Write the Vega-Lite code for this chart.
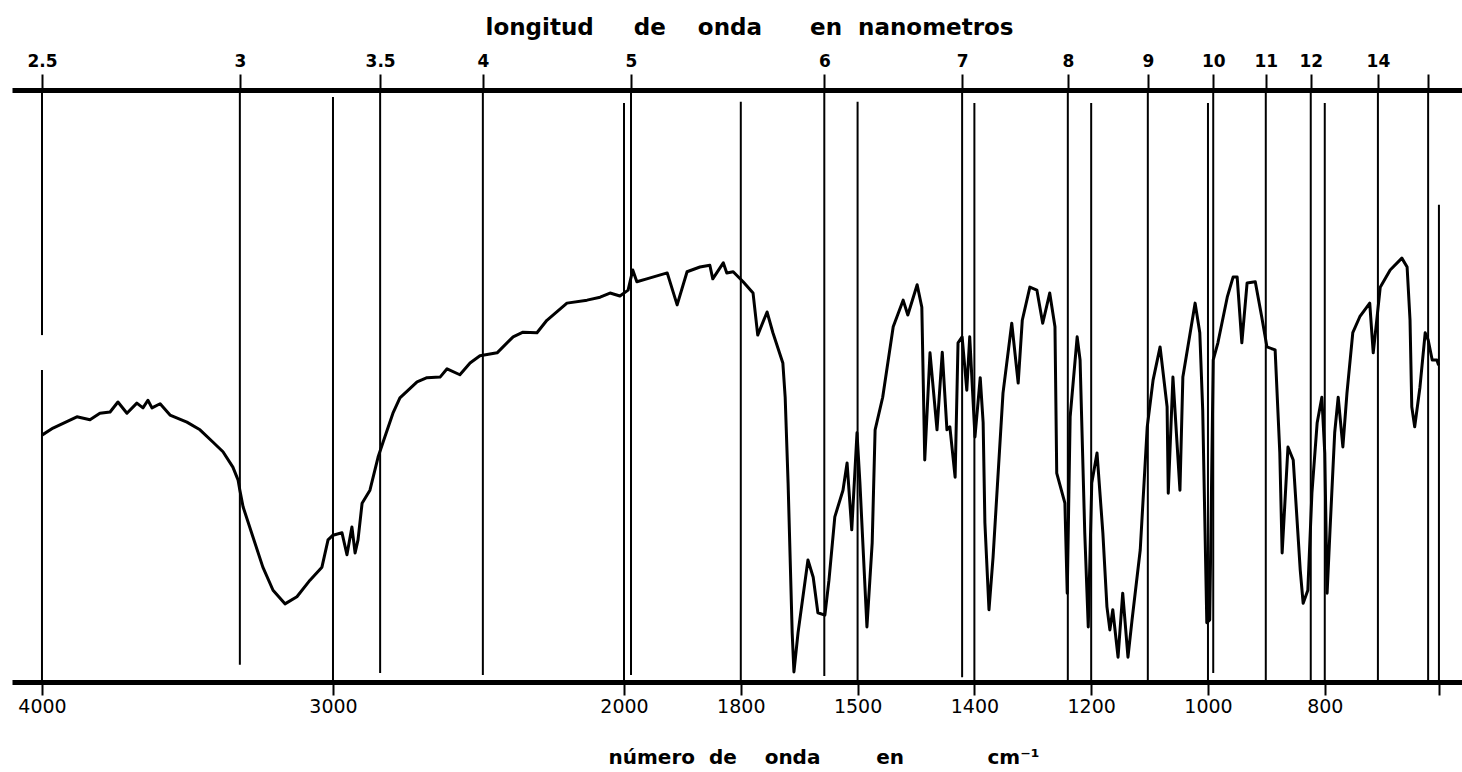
{
  "$schema": "https://vega.github.io/schema/vega-lite/v6.json",
  "width": 1450,
  "height": 592,
  "autosize": {"type": "none"},
  "padding": {"left": 12, "top": 90, "right": 0, "bottom": 90},
  "background": "white",
  "config": {
    "view": {"stroke": null},
    "axis": {"grid": false, "domainColor": "black", "domainWidth": 5, "tickColor": "black", "tickWidth": 2, "labelColor": "black", "titleColor": "black", "labelFlush": false, "labelOverlap": false, "labelBound": false}
  },
  "datasets": {
    "spectrum": [
      {"wn": 4000, "t": 41.7}, {"wn": 3962, "t": 42.9}, {"wn": 3880, "t": 44.8}, {"wn": 3835, "t": 44.3}, {"wn": 3801, "t": 45.4},
      {"wn": 3766, "t": 45.6}, {"wn": 3739, "t": 47.3}, {"wn": 3708, "t": 45.4}, {"wn": 3674, "t": 47.1}, {"wn": 3653, "t": 46.3},
      {"wn": 3636, "t": 47.6}, {"wn": 3622, "t": 46.3}, {"wn": 3594, "t": 47.0}, {"wn": 3560, "t": 45.1}, {"wn": 3502, "t": 43.9},
      {"wn": 3457, "t": 42.6}, {"wn": 3412, "t": 40.5}, {"wn": 3378, "t": 38.9}, {"wn": 3344, "t": 36.3}, {"wn": 3326, "t": 34.1},
      {"wn": 3320, "t": 32.4}, {"wn": 3309, "t": 29.6}, {"wn": 3275, "t": 24.5}, {"wn": 3241, "t": 19.4}, {"wn": 3206, "t": 15.5},
      {"wn": 3165, "t": 13.2}, {"wn": 3124, "t": 14.4}, {"wn": 3079, "t": 17.2}, {"wn": 3038, "t": 19.4}, {"wn": 3017, "t": 24.0},
      {"wn": 3000, "t": 24.8}, {"wn": 2969, "t": 25.2}, {"wn": 2952, "t": 21.5}, {"wn": 2935, "t": 26.2}, {"wn": 2924, "t": 21.8},
      {"wn": 2914, "t": 24.0}, {"wn": 2900, "t": 30.2}, {"wn": 2873, "t": 32.4}, {"wn": 2845, "t": 38.0}, {"wn": 2828, "t": 40.5},
      {"wn": 2794, "t": 45.4}, {"wn": 2770, "t": 48.0}, {"wn": 2711, "t": 50.7}, {"wn": 2677, "t": 51.4}, {"wn": 2632, "t": 51.5},
      {"wn": 2608, "t": 52.9}, {"wn": 2564, "t": 51.9}, {"wn": 2529, "t": 53.9}, {"wn": 2495, "t": 55.1}, {"wn": 2436, "t": 55.6},
      {"wn": 2381, "t": 58.3}, {"wn": 2347, "t": 59.1}, {"wn": 2299, "t": 59.0}, {"wn": 2265, "t": 61.1}, {"wn": 2196, "t": 64.0},
      {"wn": 2127, "t": 64.5}, {"wn": 2082, "t": 65.0}, {"wn": 2048, "t": 65.7}, {"wn": 2014, "t": 65.2}, {"wn": 1993, "t": 66.2},
      {"wn": 1985, "t": 69.6}, {"wn": 1978, "t": 67.6}, {"wn": 1961, "t": 68.1}, {"wn": 1926, "t": 69.1}, {"wn": 1909, "t": 63.7},
      {"wn": 1892, "t": 69.3}, {"wn": 1870, "t": 70.1}, {"wn": 1853, "t": 70.4}, {"wn": 1848, "t": 68.1}, {"wn": 1830, "t": 70.8},
      {"wn": 1824, "t": 69.1}, {"wn": 1813, "t": 69.3}, {"wn": 1796, "t": 67.6}, {"wn": 1779, "t": 65.7}, {"wn": 1771, "t": 58.6},
      {"wn": 1755, "t": 62.5}, {"wn": 1745, "t": 59.0}, {"wn": 1728, "t": 53.9}, {"wn": 1724, "t": 48.1}, {"wn": 1719, "t": 33.6},
      {"wn": 1712, "t": 8.3}, {"wn": 1709, "t": 1.7}, {"wn": 1702, "t": 8.3}, {"wn": 1685, "t": 20.6}, {"wn": 1676, "t": 17.7},
      {"wn": 1668, "t": 11.7}, {"wn": 1656, "t": 11.3}, {"wn": 1649, "t": 17.2}, {"wn": 1639, "t": 27.9}, {"wn": 1625, "t": 32.4},
      {"wn": 1618, "t": 37.0}, {"wn": 1610, "t": 25.7}, {"wn": 1601, "t": 42.1}, {"wn": 1596, "t": 33.6}, {"wn": 1584, "t": 9.3},
      {"wn": 1575, "t": 23.5}, {"wn": 1570, "t": 42.6}, {"wn": 1557, "t": 48.1}, {"wn": 1539, "t": 60.0}, {"wn": 1522, "t": 64.5},
      {"wn": 1514, "t": 62.0}, {"wn": 1498, "t": 67.1}, {"wn": 1490, "t": 63.3}, {"wn": 1485, "t": 37.5}, {"wn": 1476, "t": 55.6},
      {"wn": 1464, "t": 42.6}, {"wn": 1455, "t": 55.7}, {"wn": 1447, "t": 42.6}, {"wn": 1442, "t": 43.1}, {"wn": 1433, "t": 34.6},
      {"wn": 1428, "t": 57.3}, {"wn": 1421, "t": 58.3}, {"wn": 1413, "t": 49.3}, {"wn": 1408, "t": 58.3}, {"wn": 1399, "t": 41.4},
      {"wn": 1390, "t": 51.4}, {"wn": 1385, "t": 43.8}, {"wn": 1382, "t": 26.9}, {"wn": 1375, "t": 12.2}, {"wn": 1368, "t": 21.1},
      {"wn": 1351, "t": 48.8}, {"wn": 1336, "t": 60.6}, {"wn": 1325, "t": 50.5}, {"wn": 1318, "t": 61.1}, {"wn": 1305, "t": 66.7},
      {"wn": 1293, "t": 66.2}, {"wn": 1283, "t": 60.6}, {"wn": 1271, "t": 65.7}, {"wn": 1262, "t": 60.0}, {"wn": 1259, "t": 35.3},
      {"wn": 1245, "t": 30.2}, {"wn": 1241, "t": 15.0}, {"wn": 1236, "t": 44.8}, {"wn": 1224, "t": 58.3}, {"wn": 1219, "t": 54.4},
      {"wn": 1211, "t": 25.2}, {"wn": 1205, "t": 9.3}, {"wn": 1199, "t": 33.6}, {"wn": 1190, "t": 38.7}, {"wn": 1180, "t": 25.2},
      {"wn": 1173, "t": 12.7}, {"wn": 1168, "t": 8.8}, {"wn": 1163, "t": 12.2}, {"wn": 1154, "t": 4.2}, {"wn": 1146, "t": 15.0},
      {"wn": 1137, "t": 4.2}, {"wn": 1130, "t": 10.5}, {"wn": 1116, "t": 22.3}, {"wn": 1104, "t": 43.1}, {"wn": 1094, "t": 51.0},
      {"wn": 1082, "t": 56.6}, {"wn": 1070, "t": 46.5}, {"wn": 1068, "t": 31.9}, {"wn": 1060, "t": 51.5}, {"wn": 1048, "t": 32.4},
      {"wn": 1043, "t": 51.5}, {"wn": 1022, "t": 64.0}, {"wn": 1014, "t": 59.0}, {"wn": 1009, "t": 45.9}, {"wn": 1002, "t": 10.0},
      {"wn": 997, "t": 10.5}, {"wn": 991, "t": 54.4}, {"wn": 983, "t": 57.3}, {"wn": 967, "t": 65.0}, {"wn": 957, "t": 68.4},
      {"wn": 950, "t": 68.4}, {"wn": 942, "t": 57.3}, {"wn": 933, "t": 67.4}, {"wn": 919, "t": 67.6}, {"wn": 908, "t": 61.7},
      {"wn": 899, "t": 56.6}, {"wn": 885, "t": 56.1}, {"wn": 877, "t": 38.7}, {"wn": 873, "t": 21.8}, {"wn": 863, "t": 39.7},
      {"wn": 854, "t": 37.5}, {"wn": 842, "t": 18.9}, {"wn": 837, "t": 13.3}, {"wn": 829, "t": 15.5}, {"wn": 822, "t": 31.9},
      {"wn": 813, "t": 43.8}, {"wn": 805, "t": 48.1}, {"wn": 800, "t": 38.7}, {"wn": 796, "t": 15.0}, {"wn": 791, "t": 25.7},
      {"wn": 783, "t": 42.1}, {"wn": 777, "t": 48.1}, {"wn": 769, "t": 39.7}, {"wn": 762, "t": 48.8}, {"wn": 752, "t": 59.0},
      {"wn": 740, "t": 61.7}, {"wn": 723, "t": 64.0}, {"wn": 717, "t": 55.6}, {"wn": 711, "t": 61.1}, {"wn": 705, "t": 66.7},
      {"wn": 688, "t": 69.6}, {"wn": 668, "t": 71.6}, {"wn": 659, "t": 70.1}, {"wn": 654, "t": 61.1}, {"wn": 651, "t": 46.5},
      {"wn": 646, "t": 43.1}, {"wn": 637, "t": 49.8}, {"wn": 628, "t": 59.0}, {"wn": 623, "t": 57.8}, {"wn": 616, "t": 54.4},
      {"wn": 608, "t": 54.4}, {"wn": 605, "t": 53.5}
    ],
    "marks": [
      {"wn": 4000, "t1": 100, "t2": 58.6}, {"wn": 4000, "t1": 52.7, "t2": 0},
      {"wn": 3320, "t1": 100, "t2": 2.9}, {"wn": 3000, "t1": 98.8, "t2": 0},
      {"wn": 2838, "t1": 100, "t2": 1.5}, {"wn": 2485, "t1": 100, "t2": 1.2},
      {"wn": 2000, "t1": 97.8, "t2": 0}, {"wn": 1988, "t1": 100, "t2": 1.2},
      {"wn": 1800, "t1": 98, "t2": 0}, {"wn": 1657, "t1": 100, "t2": 1},
      {"wn": 1600, "t1": 98, "t2": 0}, {"wn": 1421, "t1": 100, "t2": 0.8},
      {"wn": 1400, "t1": 97.8, "t2": 0}, {"wn": 1240, "t1": 100, "t2": 0},
      {"wn": 1200, "t1": 97.8, "t2": 0}, {"wn": 1103, "t1": 100, "t2": 0.3},
      {"wn": 1000, "t1": 97.8, "t2": 0}, {"wn": 991, "t1": 100, "t2": 1.5},
      {"wn": 901, "t1": 100, "t2": 0}, {"wn": 824, "t1": 100, "t2": 0},
      {"wn": 800, "t1": 97.8, "t2": 0}, {"wn": 709, "t1": 100, "t2": 0},
      {"wn": 623, "t1": 100, "t2": 0}, {"wn": 604.5, "t1": 80.6, "t2": 0}
    ]
  },
  "layer": [
    {
      "data": {"name": "marks"},
      "mark": {"type": "rule", "color": "black", "strokeWidth": 2},
      "encoding": {
        "x": {
          "field": "wn", "type": "quantitative",
          "scale": {"type": "linear", "domain": [4103, 2000, 565], "range": [0, 612, 1450], "nice": false, "zero": false},
          "axis": {
            "orient": "top",
            "values": [4000, 3320, 2838, 2485, 1988, 1657, 1421, 1240, 1103, 991, 901, 824, 709, 623],
            "labelExpr": "datum.value < 650 ? '' : '' + round(20000 / datum.value) / 2",
            "labelFont": "DejaVu Sans", "labelFontWeight": "bold", "labelFontSize": 17,
            "tickSize": 16, "labelPadding": 4,
            "title": "longitud\u00a0\u00a0\u00a0\u00a0\u00a0de\u00a0\u00a0\u00a0\u00a0onda\u00a0\u00a0\u00a0\u00a0\u00a0\u00a0en\u00a0\u00a0nanometros",
            "titleFont": "DejaVu Sans", "titleFontWeight": "bold", "titleFontSize": 23,
            "titleAlign": "left", "titleBaseline": "alphabetic", "titleX": 473, "titleY": -56
          }
        },
        "y": {"field": "t1", "type": "quantitative", "scale": {"domain": [0, 100], "nice": false, "zero": false}, "axis": null},
        "y2": {"field": "t2"}
      }
    },
    {
      "data": {"name": "spectrum"},
      "mark": {"type": "line", "color": "black", "strokeWidth": 3, "strokeJoin": "round"},
      "encoding": {
        "x": {
          "field": "wn", "type": "quantitative",
          "scale": {"type": "linear", "domain": [4103, 2000, 565], "range": [0, 612, 1450], "nice": false, "zero": false},
          "axis": {
            "orient": "bottom",
            "values": [4000, 3000, 2000, 1800, 1600, 1400, 1200, 1000, 800, 604.5],
            "format": "d",
            "labelExpr": "datum.value == 1600 ? '1500' : (datum.value < 700 ? '' : datum.label)",
            "labelFont": "DejaVu Sans", "labelFontSize": 19,
            "tickSize": 13, "labelPadding": 2,
            "title": "número\u00a0\u00a0de\u00a0\u00a0\u00a0\u00a0onda\u00a0\u00a0\u00a0\u00a0\u00a0\u00a0\u00a0\u00a0en\u00a0\u00a0\u00a0\u00a0\u00a0\u00a0\u00a0\u00a0\u00a0\u00a0\u00a0\u00a0cm⁻¹",
            "titleFont": "DejaVu Sans", "titleFontWeight": "bold", "titleFontSize": 20,
            "titleAlign": "left", "titleBaseline": "alphabetic", "titleX": 596, "titleY": 81
          }
        },
        "y": {"field": "t", "type": "quantitative", "scale": {"domain": [0, 100], "nice": false, "zero": false}, "axis": null}
      }
    }
  ],
  "resolve": {"axis": {"x": "independent"}}
}
